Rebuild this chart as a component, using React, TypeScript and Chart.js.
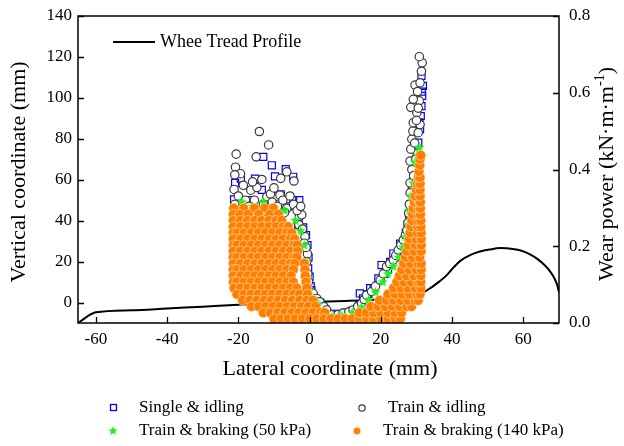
import React, { useEffect, useRef } from 'react';
import { Chart, registerables } from 'chart.js';
Chart.register(...registerables);

const FONT = '"Liberation Serif", "Times New Roman", serif';

const xTicks = [-60, -40, -20, 0, 20, 40, 60];
const yTicks = [0, 20, 40, 60, 80, 100, 120, 140];
const y2Ticks = [0, 0.2, 0.4, 0.6, 0.8];

// Wheel tread profile (vertical coordinate, mm)
const profileX = [-65, -60, -50, -40, -30, -20, -10, 0, 10, 20, 25, 28, 31, 33.5, 35, 36.6, 38.5, 40, 42.5, 45.2, 47.8, 50.5, 53.5, 57, 59.5, 62, 64, 66, 67.5, 68.8, 69.5, 70];
const profileY = [-10, -4.8, -3.8, -2.9, -2.0, -1.1, -0.4, 0.3, 0.8, 1.5, 2.1, 2.7, 4.0, 6.6, 8.4, 10.5, 13.4, 16.4, 20.6, 23.3, 24.9, 25.9, 26.6, 26.2, 25.3, 23.4, 21.2, 18.2, 15.2, 11.5, 8.6, 5.0];

// Wear power (kN·m·m^-1) scatter series: [lateral coordinate, wear power]
const singleIdling: [number, number][] = [
  [-13.0, .433], [-10.6, .411], [-6.7, .401], [-4.6, .381], [-9.7, .382], [-15.3, .376], [-20.9, .365], [-19.3, .376],
  [-21.2, .322], [-13.4, .347], [-8.1, .335], [-4.6, .320], [-2.9, .320], [-1.8, .249], [-0.6, .203], [-0.4, .142],
  [0.0, .121], [-17, .320], [-11, .309], [-6, .304], [-3, .277], [-1, .229], [-0.3, .171], [0.3, .096], [-20.5, .293],
  [-3.2, .255], [-15, .213], [-10, .160], [-19, .267],
  [0.5, .085], [1.5, .064], [3, .053], [4.5, .035], [6, .024], [8, .024], [10, .027], [12, .032], [14, .048], [14.1, .077],
  [15, .064], [16.5, .075], [17, .091], [18, .091], [19.3, .116], [20.2, .151], [21, .128], [22, .139], [22.6, .159],
  [23.5, .181], [24.5, .171], [25.4, .207], [25.5, .192], [26.3, .213], [27, .235], [27.5, .256], [27.9, .283], [28.3, .309],
  [28.7, .348], [29.1, .374], [29.3, .389], [29.6, .409], [30.0, .427], [30.1, .444], [30.5, .470], [31.0, .505], [30.8, .523],
  [31.2, .539], [31.4, .565], [31.6, .592], [31.5, .603], [31.8, .618], [31.4, .644],
];

const trainIdling: [number, number][] = [
  [-14.1, .499], [-11.5, .464], [-20.6, .440], [-15.0, .433], [-20.8, .406], [-19.4, .389], [-21.0, .386], [-13.4, .374],
  [-8.1, .377], [-6.4, .394], [-4.4, .370], [-21.2, .348], [-18.6, .359], [-16.5, .346], [-14.8, .353], [-12.0, .329],
  [-9.7, .329], [-8.3, .333], [-6.4, .299], [-2.2, .282], [-1.3, .225], [-0.6, .180], [0.0, .082], [-20, .331], [-18, .320],
  [-17, .304], [-15.5, .320], [-13, .309], [-11, .336], [-10.5, .315], [-9, .304], [-7.5, .320], [-5.5, .331], [-4.5, .309],
  [-3.5, .293], [-2.5, .304], [-7, .288], [-12.5, .291], [-19.5, .288], [-21, .309], [-16, .368], [-10, .352], [-3, .256],
  [-2, .245], [-1.5, .208], [-1, .197], [-0.8, .160], [-0.5, .128], [-0.3, .107], [0.2, .069],
  [1.0, .077], [2.0, .064], [2.9, .055], [4.0, .043], [4.8, .034], [6.2, .021], [8, .022], [9.4, .026], [11, .029], [12.2, .034],
  [13.5, .043], [14.6, .051], [15.3, .061], [16.0, .073], [17.4, .082], [18.5, .096], [19.8, .112], [20.7, .128], [21.6, .147],
  [22.5, .155], [23.5, .164], [24.2, .176], [24.9, .190], [25.6, .203], [26.3, .216], [26.9, .229], [27.3, .242], [27.6, .261],
  [27.8, .286], [28.0, .309],
  [28.2, .339], [28.2, .365], [28.7, .400], [28.2, .422], [28.4, .453], [28.7, .479], [29.0, .500], [30.5, .496], [29.1, .522],
  [31.0, .517], [30.1, .548], [28.4, .562], [30.8, .579], [29.1, .583], [29.6, .620], [31.0, .626], [31.4, .656], [31.6, .678],
  [30.8, .694], [29.5, .469], [30, .528], [30.5, .560], [29.8, .427], [29.2, .384], [30.3, .603],
];

const braking50: [number, number][] = [
  [-21, .293], [-19, .315], [-16, .304], [-13, .315], [-10, .299], [-7, .293], [-4, .267], [-2.5, .240], [-1.5, .203],
  [-1, .160], [-0.5, .117], [0, .085], [1, .064], [-18, .256], [-12, .213], [-8, .240], [-15, .160], [-20, .213], [-6, .171],
  [2.5, .048], [4.5, .027], [6.5, .016], [9, .019], [12, .027], [14.5, .040], [16.5, .059], [18.5, .080], [20.5, .107],
  [22, .128], [23.5, .147], [25, .171], [26.2, .197], [27, .224], [27.6, .256], [28, .293], [28.5, .331], [29.1, .365],
  [29.6, .418], [30.8, .457], [30.2, .437],
];

// Train & braking (140 kPa): rows of equal wear power and their lateral coordinates
const braking140RowW = [
  .299, .283, .267, .251, .235, .219, .203, .187, .171, .155, .139, .123, .107, .091, .075, .059, .043, .027, .011,
  .027, .043, .059, .075, .091, .107, .123, .139, .155, .171, .187, .203, .219, .235, .251, .267, .283, .299, .315,
  .331, .347, .363, .379, .395, .411, .427, .437,
];
const braking140RowX = [
  [-21.3, -18.5, -15.5, -12.6, -10.2],
  [-21.4, -19.5, -17.2, -14.3, -11.2, -8.8],
  [-21.4, -19.4, -17.4, -15.4, -13.4, -11.4, -9.4, -7.8],
  [-21.4, -19.4, -17.4, -15.4, -13.4, -11.4, -9.4, -7.4, -6.0],
  [-21.4, -20.4, -18.4, -16.4, -14.4, -12.4, -10.4, -8.4, -6.4, -5.0],
  [-21.4, -19.4, -17.4, -15.4, -13.4, -11.4, -9.4, -7.4, -5.4, -4.2],
  [-21.4, -20.4, -18.4, -16.4, -14.4, -12.4, -10.4, -8.4, -6.4, -4.4, -3.5],
  [-21.4, -19.4, -17.4, -15.4, -13.4, -11.4, -9.4, -7.4, -5.4, -3.4],
  [-21.4, -20.4, -18.4, -16.4, -14.4, -12.4, -10.4, -8.4, -6.4, -4.4, -3.6],
  [-21.4, -19.4, -17.4, -15.4, -13.4, -11.4, -9.4, -7.4, -5.4, -4.2, -1.5],
  [-21.4, -20.4, -18.4, -16.4, -14.4, -12.4, -10.4, -8.4, -6.4, -4.6, -1.3],
  [-21.4, -19.4, -17.4, -15.4, -13.4, -11.4, -9.4, -7.4, -5.2, -1.2],
  [-21.4, -20.4, -18.4, -16.4, -14.4, -12.4, -10.4, -8.4, -6.4, -4.6, -1.0],
  [-21.2, -19.4, -17.4, -15.4, -13.4, -11.4, -9.4, -7.4, -5.4, -3.6, -0.8],
  [-20.4, -18.4, -16.4, -14.4, -12.4, -10.4, -8.4, -6.4, -4.4, -2.8, -0.6],
  [-18.8, -16.8, -14.8, -12.8, -10.8, -8.8, -6.8, -4.8, -2.8, -0.8, 0.9],
  [-16.3, -14.3, -12.3, -10.3, -8.3, -6.3, -4.3, -2.3, -0.3, 1.7],
  [-13, -11, -9, -7, -5, -3, -1, 1, 3, 4.2],
  [-10, -8, -6, -4, -2, 0, 2, 4, 6, 8, 10, 12, 14, 16, 18, 20, 22, 24, 25.5],
  [14, 16, 18, 20, 22, 24, 25.8],
  [17.2, 19.2, 21.2, 23.2, 25.2, 27.2, 28.6],
  [19.6, 21.6, 23.6, 25.6, 27.6, 29.6, 30.5],
  [22, 24, 26, 28, 30, 31],
  [23.6, 25.6, 27.6, 29.6, 31.2],
  [24.5, 26.5, 28.5, 30.5, 31.2],
  [25.2, 27.2, 29.2, 31.2],
  [25.9, 27.9, 29.9, 31.3],
  [26.4, 28.4, 30.4, 31.3],
  [26.9, 28.9, 30.9],
  [27.3, 29.3, 31.3],
  [27.7, 29.7, 31.3],
  [28.0, 30.0, 31.3],
  [28.2, 30.2, 31.3],
  [28.4, 30.3, 31.2],
  [28.7, 30.4, 31.2],
  [28.9, 30.5, 31.1],
  [29.1, 30.6, 31.1],
  [29.4, 30.7, 31.1],
  [29.6, 31.0],
  [30.0, 31.0],
  [30.3, 31.0],
  [30.5, 31.0],
  [30.7],
  [30.9],
  [31.0],
  [31.2],
];

const legendTop = 'Whee Tread Profile';
const legendBottom = ['Single & idling', 'Train & idling', 'Train & braking (50 kPa)', 'Train & braking (140 kPa)'];

const COL_BLUE = '#0000ff';
const COL_BLACK = '#3a3a3a';
const COL_GREEN = '#22ee22';
const COL_ORANGE = '#ff8000';

function makeStar(size: number, color: string) {
  const c = document.createElement('canvas');
  c.width = size; c.height = size;
  const g = c.getContext('2d')!;
  g.fillStyle = color;
  g.beginPath();
  const cx = size / 2, cy = size / 2;
  for (let i = 0; i < 10; i++) {
    const r = i % 2 === 0 ? size / 2 : size / 4.6;
    const a = -Math.PI / 2 + (i * Math.PI) / 5;
    g.lineTo(cx + r * Math.cos(a), cy + r * Math.sin(a));
  }
  g.closePath();
  g.fill();
  return c;
}

function drawStar(ctx: CanvasRenderingContext2D, cx: number, cy: number, R: number, color: string) {
  ctx.fillStyle = color;
  ctx.beginPath();
  for (let i = 0; i < 10; i++) {
    const r = i % 2 === 0 ? R : R / 2.3;
    const a = -Math.PI / 2 + (i * Math.PI) / 5;
    ctx.lineTo(cx + r * Math.cos(a), cy + r * Math.sin(a));
  }
  ctx.closePath();
  ctx.fill();
}

const decoPlugin = {
  id: 'deco',
  afterDatasetsDraw(chart: any) {
    const { ctx, chartArea: a, scales } = chart;
    ctx.save();
    // frame
    ctx.strokeStyle = '#000';
    ctx.lineWidth = 1.5;
    ctx.strokeRect(a.left, a.top, a.right - a.left, a.bottom - a.top);
    // inward tick marks
    ctx.lineWidth = 1.3;
    ctx.beginPath();
    xTicks.forEach((v) => {
      const px = Math.round(scales.x.getPixelForValue(v)) + 0.5;
      ctx.moveTo(px, a.bottom); ctx.lineTo(px, a.bottom - 6);
    });
    yTicks.forEach((v) => {
      const py = Math.round(scales.y.getPixelForValue(v)) + 0.5;
      ctx.moveTo(a.left, py); ctx.lineTo(a.left + 6, py);
    });
    y2Ticks.forEach((v) => {
      const py = Math.round(scales.y2.getPixelForValue(v)) + 0.5;
      ctx.moveTo(a.right, py); ctx.lineTo(a.right - 6, py);
    });
    ctx.stroke();

    // tick labels
    ctx.fillStyle = '#000';
    ctx.font = `17px ${FONT}`;
    ctx.textBaseline = 'middle';
    ctx.textAlign = 'center';
    xTicks.forEach((v) => ctx.fillText(String(v), scales.x.getPixelForValue(v), a.bottom + 17));
    ctx.textAlign = 'right';
    yTicks.forEach((v) => ctx.fillText(String(v), a.left - 6, scales.y.getPixelForValue(v)));
    ctx.textAlign = 'left';
    y2Ticks.forEach((v) => ctx.fillText(v.toFixed(1), a.right + 10, scales.y2.getPixelForValue(v)));

    // axis titles
    ctx.font = `22px ${FONT}`;
    ctx.textAlign = 'center';
    ctx.fillText('Lateral coordinate (mm)', 330, 369);
    ctx.save();
    ctx.translate(19, 172);
    ctx.rotate(-Math.PI / 2);
    ctx.fillText('Vertical coordinate (mm)', 0, 0);
    ctx.restore();

    ctx.save();
    ctx.translate(607, 174);
    ctx.rotate(-Math.PI / 2);
    const main = 'Wear power (kN·m·m';
    const sup = '-1';
    const end = ')';
    ctx.font = `22px ${FONT}`;
    const w1 = ctx.measureText(main).width;
    const w3 = ctx.measureText(end).width;
    ctx.font = `14px ${FONT}`;
    const w2 = ctx.measureText(sup).width;
    let xx = -(w1 + w2 + w3) / 2;
    ctx.textAlign = 'left';
    ctx.font = `22px ${FONT}`;
    ctx.fillText(main, xx, 0); xx += w1;
    ctx.font = `14px ${FONT}`;
    ctx.fillText(sup, xx, -7); xx += w2;
    ctx.font = `22px ${FONT}`;
    ctx.fillText(end, xx, 0);
    ctx.restore();

    // top legend
    ctx.strokeStyle = '#000';
    ctx.lineWidth = 2;
    ctx.beginPath();
    ctx.moveTo(113, 42); ctx.lineTo(155, 42);
    ctx.stroke();
    ctx.font = `18px ${FONT}`;
    ctx.textAlign = 'left';
    ctx.fillStyle = '#000';
    ctx.fillText(legendTop, 160, 42);

    // bottom legend
    ctx.font = `17px ${FONT}`;
    ctx.strokeStyle = COL_BLUE; ctx.lineWidth = 1.3;
    ctx.strokeRect(110.5, 404.5, 6, 6);
    ctx.fillStyle = '#000';
    ctx.fillText(legendBottom[0], 139, 408);
    ctx.strokeStyle = COL_BLACK; ctx.lineWidth = 1.2;
    ctx.beginPath(); ctx.arc(362, 408, 3.2, 0, Math.PI * 2); ctx.stroke();
    ctx.fillText(legendBottom[1], 388, 408);
    drawStar(ctx, 113, 431, 4.8, COL_GREEN);
    ctx.fillStyle = '#000';
    ctx.fillText(legendBottom[2], 139, 431);
    ctx.fillStyle = COL_ORANGE;
    ctx.beginPath(); ctx.arc(357, 431, 3.8, 0, Math.PI * 2); ctx.fill();
    ctx.strokeStyle = 'rgba(255,230,200,0.9)'; ctx.lineWidth = 0.8; ctx.stroke();
    ctx.fillStyle = '#000';
    ctx.fillText(legendBottom[3], 383, 431);

    ctx.restore();
  },
};

export default function App() {
  const ref = useRef<HTMLCanvasElement>(null);
  useEffect(() => {
    if (!ref.current) return;
    const star = makeStar(11, COL_GREEN);
    const orangeData: { x: number; y: number }[] = [];
    braking140RowW.forEach((w, i) => braking140RowX[i].forEach((x) => orangeData.push({ x, y: w })));
    const toXY = (arr: [number, number][]) => arr.map(([x, y]) => ({ x, y }));
    const profile = profileX.map((x, i) => ({ x, y: profileY[i] }));

    const chart = new Chart(ref.current, {
      type: 'scatter',
      data: {
        datasets: [
          {
            label: legendBottom[3], data: orangeData, yAxisID: 'y2', pointStyle: 'circle', pointRadius: 5,
            backgroundColor: COL_ORANGE, borderColor: 'rgba(255,228,200,0.9)', borderWidth: 0.7, order: 0, clip: 0,
          } as any,
          {
            label: legendBottom[2], data: toXY(braking50), yAxisID: 'y2', pointStyle: star as any, pointRadius: 5,
            order: 1, clip: 0,
          } as any,
          {
            label: legendBottom[1], data: toXY(trainIdling), yAxisID: 'y2', pointStyle: 'circle', pointRadius: 4.2,
            backgroundColor: '#ffffff', borderColor: COL_BLACK, borderWidth: 1.2, order: 2, clip: 0,
          } as any,
          {
            label: legendBottom[0], data: toXY(singleIdling), yAxisID: 'y2', pointStyle: 'rect', pointRadius: 5,
            backgroundColor: 'rgba(0,0,0,0)', borderColor: COL_BLUE, borderWidth: 1.2, order: 3, clip: 0,
          } as any,
          {
            label: legendTop, data: profile, yAxisID: 'y', showLine: true, pointRadius: 0, borderColor: '#000',
            borderWidth: 2, cubicInterpolationMode: 'monotone', order: 4, clip: 0,
          } as any,
        ],
      },
      options: {
        animation: false,
        responsive: false,
        devicePixelRatio: 1,
        events: [],
        layout: { padding: { top: 16, left: 0, right: 0, bottom: 0 } },
        plugins: { legend: { display: false }, tooltip: { enabled: false } },
        scales: {
          x: {
            type: 'linear', position: 'bottom', min: -65, max: 70,
            grid: { display: false, drawTicks: false }, border: { display: false }, ticks: { display: false },
            afterFit: (s: any) => { s.height = 123; },
          },
          y: {
            type: 'linear', position: 'left', min: -10, max: 140,
            grid: { display: false, drawTicks: false }, border: { display: false }, ticks: { display: false },
            afterFit: (s: any) => { s.width = 78; },
          },
          y2: {
            type: 'linear', position: 'right', min: 0, max: 0.8,
            grid: { display: false, drawTicks: false }, border: { display: false }, ticks: { display: false },
            afterFit: (s: any) => { s.width = 65; },
          },
        },
      } as any,
      plugins: [decoPlugin],
    });
    return () => chart.destroy();
  }, []);

  return (
    <div style={{ position: 'absolute', left: 0, top: 0, width: 624, height: 446, background: '#fff' }}>
      <canvas ref={ref} width={624} height={446} style={{ display: 'block', width: 624, height: 446 }} />
    </div>
  );
}
